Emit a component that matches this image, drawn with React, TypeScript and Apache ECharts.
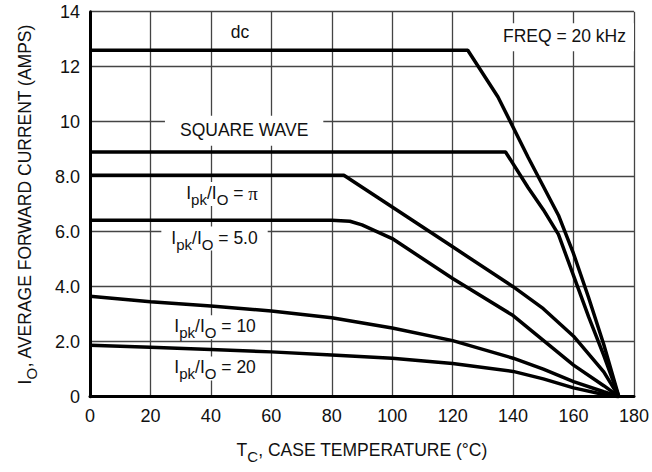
import React, { useEffect, useRef } from "react";
import * as echarts from "echarts";

const F = "'Liberation Sans', Arial, sans-serif";
const INK = "#111";

// x-axis ticks (°C) and y-axis ticks (A)
const xMin = 0, xMax = 180, xStep = 20;
const yMin = 0, yMax = 14, yStep = 2;

// dc
const dcT = [0, 125, 135, 145, 155, 160, 165, 170, 175];
const dcI = [12.6, 12.6, 10.9, 8.7, 6.6, 5.2, 3.6, 1.9, 0];
// square wave
const sqT = [0, 137.5, 145, 150, 155, 160, 165, 170, 175];
const sqI = [8.9, 8.9, 7.6, 6.8, 5.9, 4.4, 2.9, 1.5, 0];
// Ipk/Io = pi
const piT = [0, 84, 100, 120, 140, 150, 160, 170, 175];
const piI = [8.05, 8.05, 6.9, 5.45, 4.0, 3.2, 2.2, 0.9, 0];
// Ipk/Io = 5.0
const r5T = [0, 80, 86, 90, 94, 100, 120, 140, 150, 160, 170, 175];
const r5I = [6.42, 6.42, 6.38, 6.25, 6.05, 5.75, 4.3, 2.95, 2.05, 1.15, 0.4, 0];
// Ipk/Io = 10
const r10T = [0, 20, 40, 60, 80, 100, 120, 140, 150, 160, 170, 175];
const r10I = [3.65, 3.45, 3.3, 3.12, 2.87, 2.5, 2.04, 1.4, 1.0, 0.55, 0.18, 0];
// Ipk/Io = 20
const r20T = [0, 20, 40, 60, 80, 100, 120, 140, 150, 160, 170, 175];
const r20I = [1.87, 1.8, 1.72, 1.63, 1.52, 1.4, 1.21, 0.92, 0.65, 0.32, 0.08, 0];

// annotation labels: text and anchor in data coordinates
const labels = [
  { text: "{m|dc}", at: [49.6, 13.21], pad: [3, 8] },
  { text: "{m|FREQ = 20 kHz}", at: [157, 13.07], pad: [4, 8] },
  { text: "{m|SQUARE WAVE}", at: [51, 9.67], pad: [5, 15] },
  { text: "{m|I}{s|pk}{m|/I}{s|O}{m| = }{p|π}", at: [43.7, 7.37], pad: [2, 8] },
  { text: "{m|I}{s|pk}{m|/I}{s|O}{m| = 5.0}", at: [41.2, 5.75], pad: [2, 10] },
  { text: "{m|I}{s|pk}{m|/I}{s|O}{m| = 10}", at: [41.4, 2.53], pad: [2, 8] },
  { text: "{m|I}{s|pk}{m|/I}{s|O}{m| = 20}", at: [41.4, 1.03], pad: [2, 8] },
];

const rich = {
  m: { fontSize: 17.5, fontFamily: F, color: INK, lineHeight: 20, verticalAlign: "top" },
  s: { fontSize: 15, fontFamily: F, color: INK, lineHeight: 16, padding: [8, 0, 0, 0], verticalAlign: "top" },
  p: { fontSize: 19, fontFamily: "'Liberation Serif', serif", color: INK, lineHeight: 20, verticalAlign: "top" },
};

const pairs = (t: number[], v: number[]) => t.map((x, i) => [x, v[i]]);

const curves = [
  pairs(dcT, dcI),
  pairs(sqT, sqI),
  pairs(piT, piI),
  pairs(r5T, r5I),
  pairs(r10T, r10I),
  pairs(r20T, r20I),
];

export default function App() {
  const ref = useRef<HTMLDivElement>(null);
  useEffect(() => {
    if (!ref.current) return;
    const chart = echarts.init(ref.current, null, { renderer: "svg" });
    const gridLine = { show: true, lineStyle: { color: "#444", width: 1.3 } };
    chart.setOption({
      animation: false,
      backgroundColor: "#fff",
      grid: { left: 90, right: 14.5, top: 11.7, bottom: 75.3, containLabel: false },
      xAxis: {
        type: "value",
        min: xMin,
        max: xMax,
        interval: xStep,
        axisLine: { show: true, onZero: false, lineStyle: { color: "#000", width: 3 } },
        axisTick: { show: false },
        splitLine: gridLine,
        axisLabel: { color: INK, fontSize: 18, fontFamily: F, margin: 10 },
        name: "{m|T}{s|C}{m|, CASE TEMPERATURE (°C)}",
        nameLocation: "middle",
        nameGap: 44,
        nameTextStyle: { rich, fontSize: 17.5, fontFamily: F, color: INK },
      },
      yAxis: {
        type: "value",
        min: yMin,
        max: yMax,
        interval: yStep,
        axisLine: { show: true, onZero: false, lineStyle: { color: "#000", width: 3 } },
        axisTick: { show: false },
        splitLine: gridLine,
        axisLabel: {
          color: INK,
          fontSize: 18,
          fontFamily: F,
          margin: 10,
          formatter: (v: number) => (v === 0 || v >= 10 ? String(v) : v.toFixed(1)),
        },
        name: "{m|I}{s|O}{m|, AVERAGE FORWARD CURRENT (AMPS)}",
        nameLocation: "middle",
        nameRotate: 90,
        nameGap: 54,
        nameTextStyle: { rich, fontSize: 17.5, fontFamily: F, color: INK },
      },
      series: curves.map((d) => ({
        type: "line",
        data: d,
        showSymbol: false,
        symbol: "none",
        lineStyle: { color: "#000", width: 3.5 },
        z: 3,
      })),
    });
    const graphic = labels.map((l) => {
      const [px, py] = chart.convertToPixel({ gridIndex: 0 }, l.at) as number[];
      return {
        type: "text",
        x: px,
        y: py,
        z: 1,
        style: {
          text: l.text,
          rich,
          fill: INK,
          align: "center",
          verticalAlign: "middle",
          backgroundColor: "#fff",
          padding: l.pad,
        },
      };
    });
    chart.setOption({ graphic });
    return () => chart.dispose();
  }, []);
  return <div ref={ref} style={{ position: "fixed", left: 0, top: 0, width: 652, height: 472 }} />;
}
